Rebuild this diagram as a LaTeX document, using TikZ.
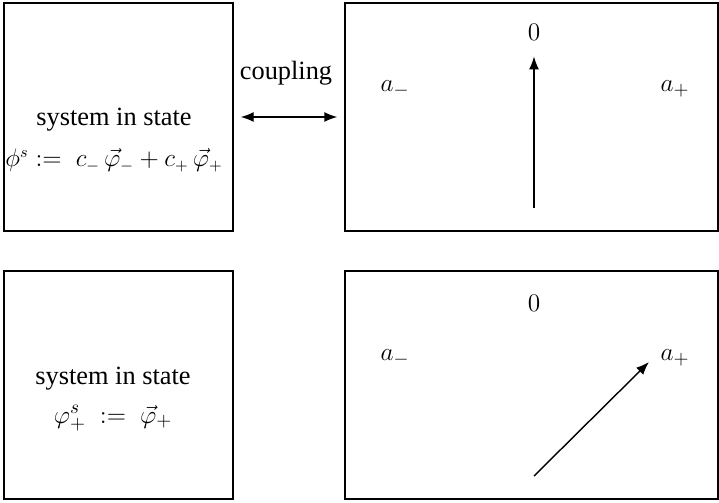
\documentclass[tikz,border=0pt]{standalone}
\usepackage{amsmath}
\usepackage{fontspec}
\setmainfont{Liberation Serif}
\usetikzlibrary{arrows.meta,positioning,calc}

\begin{document}
\begin{tikzpicture}[font=\fontsize{15}{17}\selectfont,
  panel/.style={draw, line width=0.8pt, inner sep=0pt, minimum height=4.56cm},
  vec/.style={-{Latex[length=2.6mm,width=2mm]}, line width=0.8pt}]
  \useasboundingbox (0,0) rectangle (14.38,10.04);
  % upper row: system coupled to the meter
  \node[panel, minimum width=4.58cm] (sys1) at (2.37,7.70) {};
  \node[panel, minimum width=7.46cm] (met1) at (10.63,7.70) {};
  \node[align=center] (st1) at (2.28,7.24)
    {system in state\\[6pt] {\fontsize{13.5}{17}\selectfont
     $\phi^{s} :=\; c_-\,\vec{\varphi}_- + c_+\,\vec{\varphi}_+$}};
  \node (cpl) at (5.72,8.58) {coupling};
  \draw[{Latex[length=2.6mm,width=2mm]}-{Latex[length=2.6mm,width=2mm]}, line width=0.8pt,
    shorten <=0.14cm, shorten >=0.14cm] (sys1.east) -- (met1.west);
  \node (z1) at (10.68,9.40) {$0$};
  \node (am1) at (7.90,8.26) {$a_-$};
  \node (ap1) at (13.50,8.26) {$a_+$};
  \coordinate (t1) at (10.68,5.88);
  \draw[vec, shorten >=0.2cm] (t1) -- (z1.south);
  % lower row: after the measurement
  \node[panel, minimum width=4.58cm] (sys2) at (2.37,2.34) {};
  \node[panel, minimum width=7.46cm] (met2) at (10.63,2.34) {};
  \node[align=center] (st2) at (2.26,2.06)
    {system in state\\[5pt] $\varphi^{s}_{+} \;:=\; \vec{\varphi}_+$};
  \node (z2) at (10.68,3.98) {$0$};
  \node (am2) at (7.90,2.88) {$a_-$};
  \node (ap2) at (13.50,2.88) {$a_+$};
  \coordinate (t2) at (10.68,0.52);
  \coordinate (h2) at (12.98,2.80);
  \draw[vec] (t2) -- (h2);
\end{tikzpicture}
\end{document}
